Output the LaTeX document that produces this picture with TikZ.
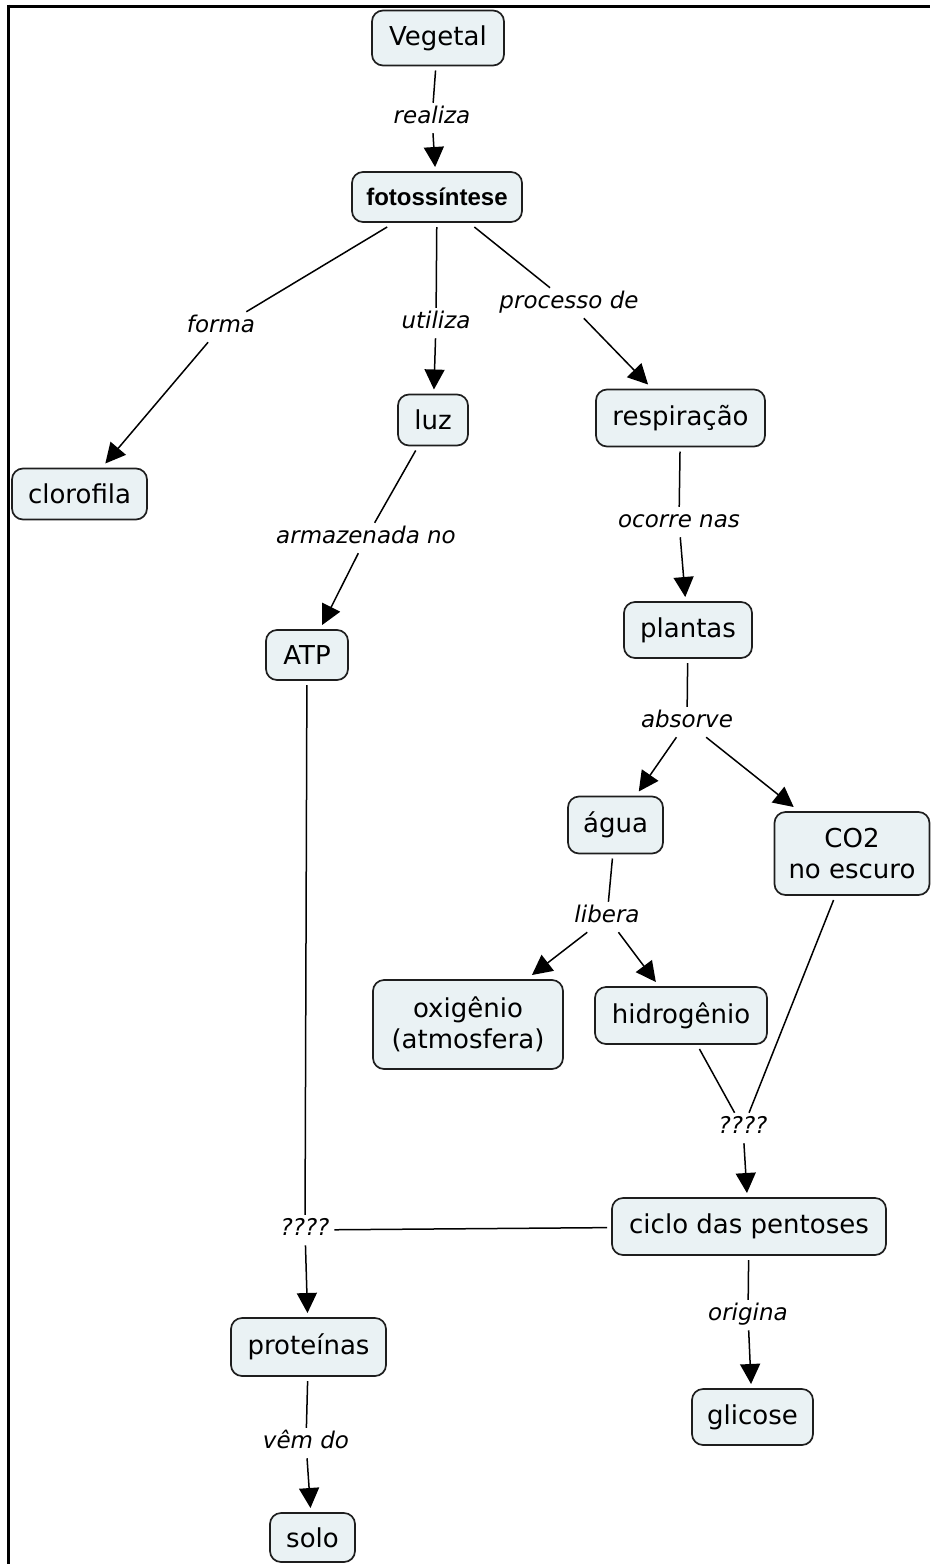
\documentclass[tikz,border=0pt]{standalone}
\usepackage{fontspec}
\setmainfont{DejaVu Sans}
\newfontfamily\headfont{Liberation Sans}
\usetikzlibrary{arrows.meta}
\definecolor{conceptfill}{HTML}{EAF2F4}
\definecolor{conceptline}{HTML}{1E1E1E}
\begin{document}
\begin{tikzpicture}[x=1pt,y=-1pt,
  concept/.style={draw=conceptline, line width=1.7pt, fill=conceptfill,
    rounded corners=11pt, inner sep=0pt, outer sep=5pt, align=center,
    font=\fontsize{26}{31}\selectfont},
  linkword/.style={inner sep=3pt, outer sep=2pt, text height=16pt, text depth=4.5pt,
    font=\fontsize{23}{26}\selectfont\itshape},
  conn/.style={line width=1.5pt, draw=black},
  arr/.style={conn, -{Triangle[length=20pt,width=20pt]}},
  frameline/.style={line width=3pt, draw=black}
]
\useasboundingbox (0,0) rectangle (930,1564);

% outer frame (top and left edges)
\draw[frameline] (8.5,6) -- (930,6);
\draw[frameline] (8.5,4.5) -- (8.5,1564);

% concepts
\node[concept, minimum width=132pt, minimum height=55pt] (veg) at (438,38) {Vegetal};
\node[concept, minimum width=170pt, minimum height=50pt,
      font=\headfont\bfseries\fontsize{24}{28}\selectfont] (fot) at (437,197) {fotossíntese};
\node[concept, minimum width=135pt, minimum height=51pt] (clo) at (79.5,494) {clorofila};
\node[concept, minimum width=70pt, minimum height=51pt] (luz) at (433,420) {luz};
\node[concept, minimum width=169pt, minimum height=57pt] (resp) at (680.5,418) {respiração};
\node[concept, minimum width=82pt, minimum height=50pt] (atp) at (307,655) {ATP};
\node[concept, minimum width=128pt, minimum height=56pt] (plan) at (688,630) {plantas};
\node[concept, minimum width=95pt, minimum height=57pt] (agua) at (615.5,825) {água};
\node[concept, minimum width=155pt, minimum height=83pt] (co2) at (852,853.5) {CO2\\no escuro};
\node[concept, minimum width=190pt, minimum height=89pt] (oxi) at (468,1024.5) {oxigênio\\(atmosfera)};
\node[concept, minimum width=172pt, minimum height=57pt] (hid) at (681,1015.5) {hidrogênio};
\node[concept, minimum width=274pt, minimum height=57pt] (cic) at (749,1226.5) {ciclo das pentoses};
\node[concept, minimum width=155pt, minimum height=58pt] (prot) at (308.5,1347) {proteínas};
\node[concept, minimum width=121pt, minimum height=56pt] (gli) at (752.5,1417) {glicose};
\node[concept, minimum width=85pt, minimum height=49pt] (solo) at (312.5,1537.5) {solo};

% linking phrases
\node[linkword] (lrea) at (432,118) {realiza};
\node[linkword] (lfor) at (221,327) {forma};
\node[linkword] (luti) at (436,323) {utiliza};
\node[linkword] (lpro) at (569,303) {processo de};
\node[linkword] (larm) at (366,538) {armazenada no};
\node[linkword] (loco) at (679,522) {ocorre nas};
\node[linkword] (labs) at (687,722) {absorve};
\node[linkword] (llib) at (607,917) {libera};
\node[linkword] (lq1) at (743,1128) {????};
\node[linkword] (lq2) at (305,1230) {????};
\node[linkword] (lori) at (748,1315) {origina};
\node[linkword] (lvem) at (306,1443) {vêm do};

% connectors
\draw[conn] (veg) -- (lrea);
\draw[arr] (lrea) -- (fot);

\draw[conn] (fot) -- (lfor);
\draw[arr] (lfor) -- (clo);

\draw[conn] (fot) -- (luti);
\draw[arr] (luti) -- (luz);

\draw[conn] (fot) -- (lpro);
\draw[arr] (lpro) -- (resp);

\draw[conn] (luz) -- (larm);
\draw[arr] (larm) -- (atp);

\draw[conn] (resp) -- (loco);
\draw[arr] (loco) -- (plan);

\draw[conn] (plan) -- (labs);
\draw[arr] (labs) -- (agua);
\draw[arr] (labs) -- (co2);

\draw[conn] (agua) -- (llib);
\draw[arr] (llib) -- (oxi);
\draw[arr] (llib) -- (hid);

\draw[conn] (hid) -- (lq1);
\draw[conn] (co2) -- (lq1);
\draw[arr] (lq1) -- (cic);

\draw[conn] (atp) -- (lq2);
\draw[conn] (cic) -- (lq2);
\draw[arr] (lq2) -- (prot);

\draw[conn] (cic) -- (lori);
\draw[arr] (lori) -- (gli);

\draw[conn] (prot) -- (lvem);
\draw[arr] (lvem) -- (solo);
\end{tikzpicture}
\end{document}
